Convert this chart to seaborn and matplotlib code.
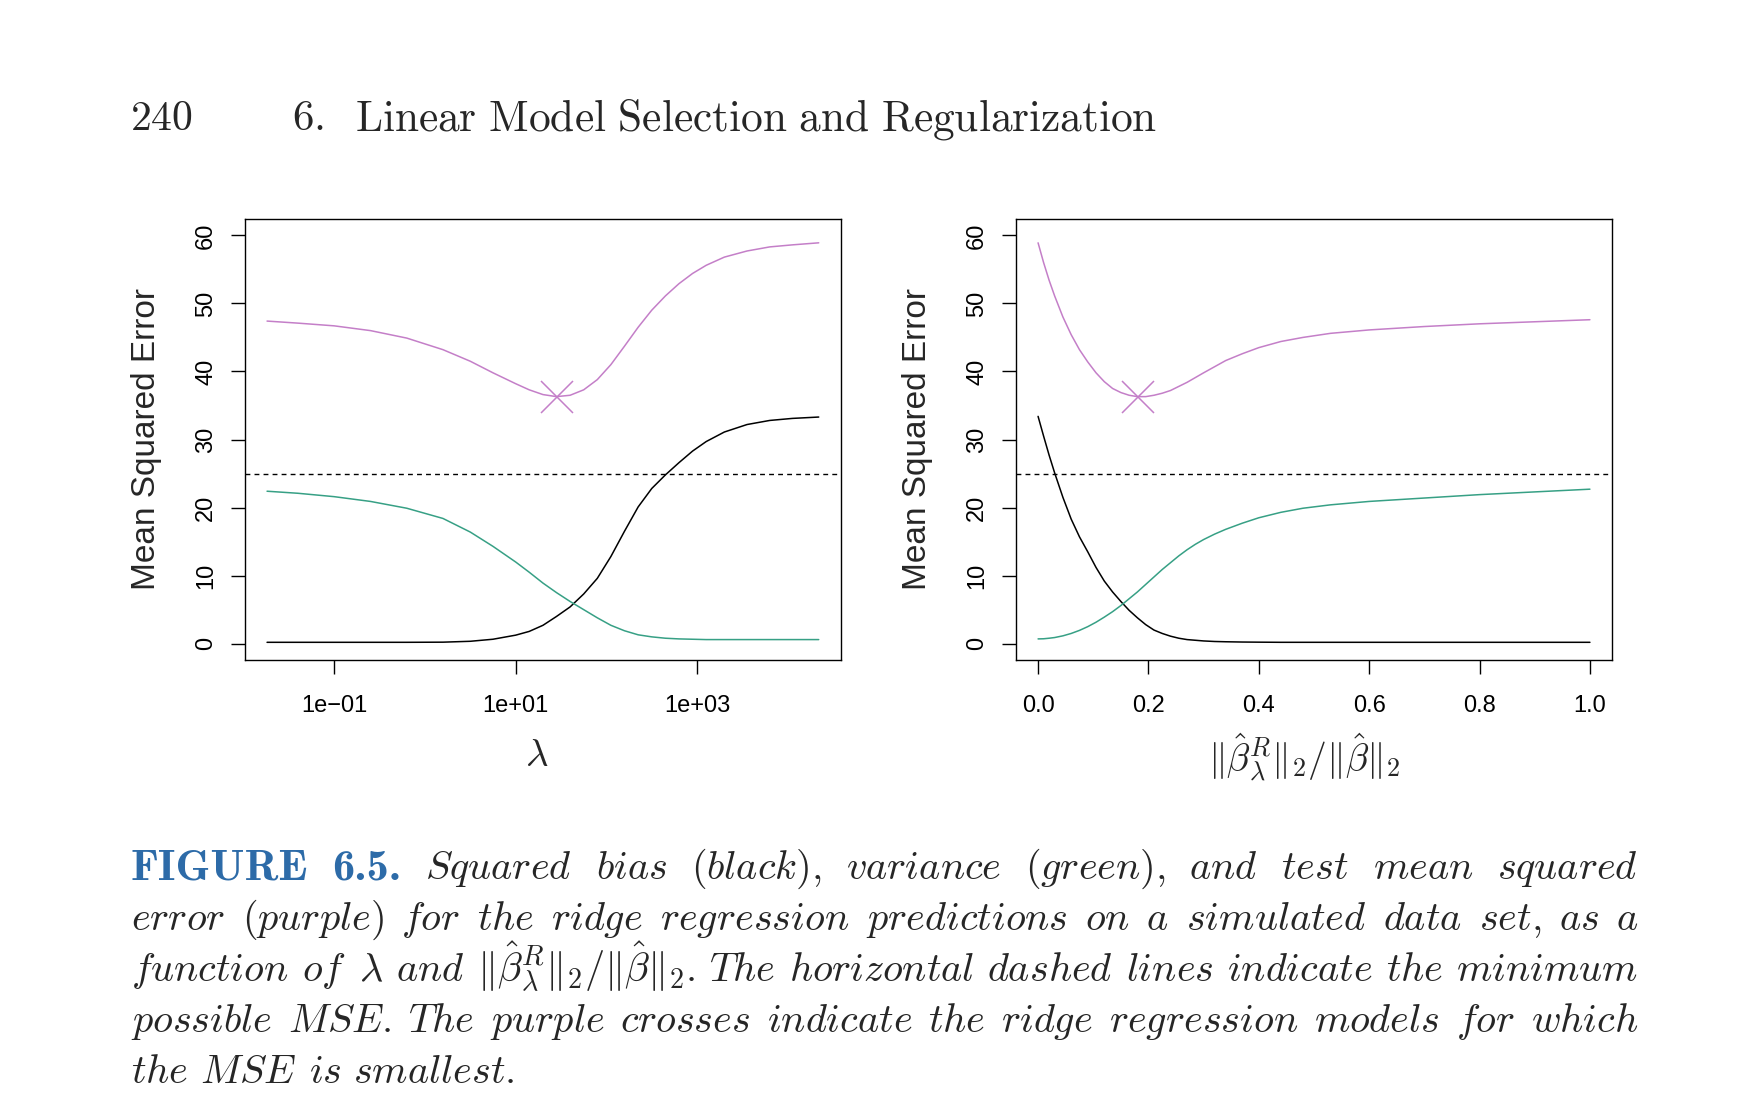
import matplotlib
matplotlib.use("Agg")
import matplotlib.pyplot as plt
import pandas as pd
import seaborn as sns

# ---- values ----
# left panel: x = lambda (log scale)
lam = [0.0182, 0.0398, 0.1, 0.251, 0.631, 1.58, 3.16, 5.62, 10, 14.1,
       20.0, 28.2, 39.8, 56.2, 79.4, 112, 158, 224, 316, 447,
       631, 891, 1259, 1995, 3548, 6310, 11220, 21878]
lam_bias = [0.2, 0.2, 0.2, 0.2, 0.2, 0.22, 0.35, 0.65, 1.25, 1.8,
            2.7, 4.0, 5.4, 7.3, 9.6, 12.8, 16.5, 20.1, 22.8, 24.8,
            26.6, 28.3, 29.7, 31.1, 32.2, 32.8, 33.1, 33.3]
lam_var = [22.4, 22.1, 21.6, 20.9, 19.9, 18.4, 16.4, 14.3, 12.0, 10.5,
           8.9, 7.5, 6.2, 5.0, 3.8, 2.7, 1.9, 1.3, 1.0, 0.8,
           0.7, 0.65, 0.6, 0.6, 0.6, 0.6, 0.6, 0.6]
lam_mse = [47.4, 47.1, 46.7, 46.0, 44.9, 43.2, 41.5, 39.8, 38.2, 37.3,
           36.6, 36.3, 36.5, 37.3, 38.8, 41.0, 43.7, 46.5, 49.0, 51.1,
           52.9, 54.4, 55.6, 56.8, 57.7, 58.3, 58.6, 58.9]
lam_best = (28.2, 36.3)

# right panel: x = ||beta_ridge|| / ||beta||
ratio = [0.0, 0.01, 0.02, 0.03, 0.045, 0.06, 0.075, 0.09, 0.105, 0.12,
         0.135, 0.15, 0.165, 0.18, 0.195, 0.21, 0.225, 0.24, 0.255, 0.27,
         0.285, 0.30, 0.32, 0.34, 0.37, 0.40, 0.44, 0.48, 0.53, 0.6,
         0.7, 0.8, 0.9, 1.0]
ratio_bias = [33.4, 30.5, 27.7, 25.1, 21.5, 18.3, 15.7, 13.5, 11.2, 9.2,
              7.6, 6.2, 4.9, 3.8, 2.8, 2.0, 1.5, 1.1, 0.8, 0.6,
              0.5, 0.4, 0.32, 0.28, 0.24, 0.22, 0.2, 0.2, 0.2, 0.2,
              0.2, 0.2, 0.2, 0.2]
ratio_var = [0.7, 0.72, 0.8, 0.9, 1.15, 1.5, 1.95, 2.5, 3.15, 3.9,
             4.7, 5.6, 6.6, 7.6, 8.7, 9.8, 10.9, 11.9, 12.9, 13.8,
             14.6, 15.3, 16.1, 16.8, 17.7, 18.5, 19.3, 19.9, 20.4, 20.9,
             21.4, 21.9, 22.3, 22.7]
ratio_mse = [58.9, 56.0, 53.4, 51.1, 48.0, 45.4, 43.2, 41.4, 39.8, 38.5,
             37.5, 36.9, 36.5, 36.3, 36.3, 36.5, 36.8, 37.2, 37.8, 38.4,
             39.1, 39.8, 40.7, 41.6, 42.6, 43.5, 44.4, 45.0, 45.6, 46.1,
             46.6, 47.0, 47.3, 47.6]
ratio_best = (0.181, 36.3)

min_mse = 25

lam_ticks = [0.1, 10, 1000]
lam_ticklabels = ["1e\u221201", "1e+01", "1e+03"]
ratio_ticks = [0.0, 0.2, 0.4, 0.6, 0.8, 1.0]
y_ticks = [0, 10, 20, 30, 40, 50, 60]

PURPLE = "#C47FC8"
GREEN = "#37A085"
BLUE = "#2D6BA8"

sns.set_theme(style="ticks")
plt.rcParams["font.family"] = ["Liberation Sans", "DejaVu Sans"]
plt.rcParams["mathtext.fontset"] = "cm"
plt.rcParams["axes.edgecolor"] = "black"
plt.rcParams["axes.linewidth"] = 1.0
plt.rcParams["xtick.color"] = "black"
plt.rcParams["ytick.color"] = "black"

W, H = 1746, 1114
fig = plt.figure(figsize=(W / 100, H / 100), dpi=100)
ax1 = fig.add_axes([245 / W, 1 - 660 / H, 596 / W, 441 / H])
ax2 = fig.add_axes([1016 / W, 1 - 660 / H, 596 / W, 441 / H])


def long_df(x, bias, var, mse):
    return pd.DataFrame({
        "x": list(x) * 3,
        "value": list(bias) + list(var) + list(mse),
        "curve": ["bias"] * len(x) + ["var"] * len(x) + ["mse"] * len(x),
    })


pal = {"bias": "black", "var": GREEN, "mse": PURPLE}

for ax, df, best in [
    (ax1, long_df(lam, lam_bias, lam_var, lam_mse), lam_best),
    (ax2, long_df(ratio, ratio_bias, ratio_var, ratio_mse), ratio_best),
]:
    sns.lineplot(data=df, x="x", y="value", hue="curve", palette=pal,
                 linewidth=1.1, legend=False, ax=ax)
    ax.axhline(min_mse, color="black", linewidth=1.0, linestyle=(0, (3.5, 3.0)))
    ax.plot([best[0]], [best[1]], marker="x", markersize=23, mew=1.1,
            color=PURPLE, linestyle="none")
    ax.set_ylim(-2.4, 62.4)
    ax.set_yticks(y_ticks)
    ax.tick_params(axis="both", direction="out", length=10, width=1.0,
                   labelsize=17, left=True, bottom=True)
    ax.tick_params(axis="y", labelrotation=90, pad=10)
    ax.tick_params(axis="x", pad=15)
    for lab in ax.get_yticklabels():
        lab.set_va("center")
    ax.set_ylabel("Mean Squared Error", fontsize=24, va="center")
    ax.yaxis.set_label_coords(-0.165, 0.5)
    for s in ax.spines.values():
        s.set_visible(True)
        s.set_linewidth(1.0)

ax1.set_xscale("log")
ax1.set_xlim(0.0104, 38500)
ax1.set_xticks(lam_ticks)
ax1.set_xticklabels(lam_ticklabels)
ax1.minorticks_off()
ax1.set_xlabel(r"$\lambda$", fontsize=28, va="center")
ax1.xaxis.set_label_coords(0.49, -0.218)

ax2.set_xlim(-0.04, 1.04)
ax2.set_xticks(ratio_ticks)
ax2.set_xticklabels([f"{t:.1f}" for t in ratio_ticks])
ax2.set_xlabel(r"$\Vert\hat{\beta}^R_\lambda\Vert_2/\Vert\hat{\beta}\Vert_2$",
               fontsize=27, va="center")
ax2.xaxis.set_label_coords(0.484, -0.22)

# ---- page text ----
fig.text(130 / W, 1 - 130 / H, r"$\mathrm{240}$", fontsize=30, va="baseline")
fig.text(292 / W, 1 - 130 / H, r"$\mathrm{6.}$", fontsize=31, va="baseline")
fig.text(355 / W, 1 - 130 / H,
         r"$\mathrm{Linear\ Model\ Selection\ and\ Regularization}$",
         fontsize=31.2, va="baseline")

cap_lines = [
    [("FIGURE", "bold"), ("6.5.", "bold")]
    + [(w, "it") for w in "Squared bias (black), variance (green), and test mean squared".split()],
    [(w, "it") for w in "error (purple) for the ridge regression predictions on a simulated data set, as a".split()],
    [(w, "it") for w in ["function", "of"]]
    + [(r"$\lambda$", "math"), ("and", "it"),
       (r"$\Vert\hat{\beta}^R_\lambda\Vert_2/\Vert\hat{\beta}\Vert_2.$", "math")]
    + [(w, "it") for w in "The horizontal dashed lines indicate the minimum".split()],
    [(w, "it") for w in "possible MSE. The purple crosses indicate the ridge regression models for which".split()],
    [(w, "it") for w in "the MSE is smallest.".split()],
]
cap_base = [879, 930, 981, 1032, 1083]

renderer = fig.canvas.get_renderer()
x0, x1 = 131, 1638
for i, (words, yb) in enumerate(zip(cap_lines, cap_base)):
    arts = []
    for w, kind in words:
        if kind == "bold":
            t = fig.text(0, 1 - yb / H, w, fontsize=32, color=BLUE,
                         family="cmb10", va="baseline")
        elif kind == "math":
            t = fig.text(0, 1 - yb / H, w, fontsize=29, va="baseline")
        else:
            t = fig.text(0, 1 - yb / H, r"$\mathit{" + w + "}$", fontsize=29,
                         va="baseline")
        arts.append(t)
    widths = [a.get_window_extent(renderer).width for a in arts]
    if i < len(cap_lines) - 1:
        gap = (x1 - x0 - sum(widths)) / (len(arts) - 1)
    else:
        gap = 12
    x = x0
    for a, wd in zip(arts, widths):
        a.set_x(x / W)
        x += wd + gap

fig.savefig("out.png", dpi=100, facecolor="white")
